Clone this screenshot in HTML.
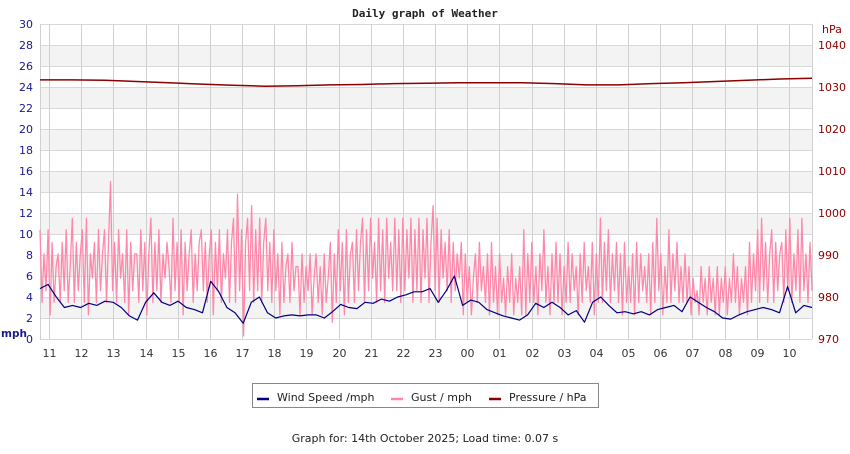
<!DOCTYPE html>
<html><head><meta charset="utf-8"><style>
body{margin:0;background:#fff;width:850px;height:450px;overflow:hidden;font-family:"DejaVu Sans","Liberation Sans",sans-serif}
</style></head><body>
<svg width="850" height="450" xmlns="http://www.w3.org/2000/svg" id="chart" font-family="DejaVu Sans, Liberation Sans, sans-serif">
<text x="425" y="17" text-anchor="middle" font-family="DejaVu Sans Mono, Liberation Mono, monospace" font-weight="bold" font-size="11" fill="#222">Daily graph of Weather</text>
<g id="grid"></g>
<g id="ylabels"></g>
<g id="rlabels"></g>
<g id="xlabels"></g>
<g id="series"></g>
<text x="1" y="337" font-weight="bold" font-size="10.5" fill="#1a1a8c">mph</text>
<text x="822" y="33" font-size="11" fill="#8b0000">hPa</text>
<g>
<rect x="252.5" y="383.5" width="346" height="24" fill="#fff" stroke="#888"/>
<g><line x1="257" y1="399" x2="269" y2="399" stroke="#000080" stroke-width="2.5"/><text x="277" y="401" font-size="11" fill="#222">Wind Speed /mph</text></g>
<g><line x1="391" y1="399" x2="403" y2="399" stroke="#ff88aa" stroke-width="2.5"/><text x="411" y="401" font-size="11" fill="#222">Gust / mph</text></g>
<g><line x1="489" y1="399" x2="501" y2="399" stroke="#8b0000" stroke-width="2.5"/><text x="509" y="401" font-size="11" fill="#222">Pressure / hPa</text></g>
</g>
<text x="425" y="442" text-anchor="middle" font-size="11" fill="#222">Graph for: 14th October 2025; Load time: 0.07 s</text>
</svg>
<script>
const hourLabels=["11","12","13","14","15","16","17","18","19","20","21","22","23","00","01","02","03","04","05","06","07","08","09","10"];
const mphTicks=[0,2,4,6,8,10,12,14,16,18,20,22,24,26,28,30];
const hpaTicks=[970,980,990,1000,1010,1020,1030,1040];
const windSpeed=[4.8,5.2,4.0,3.0, 3.2,3.0,3.4,3.2, 3.6,3.5,3.0,2.2, 1.8,3.5,4.4,3.5, 3.2,3.6,3.0,2.8, 2.5,5.5,4.5,3.0, 2.5,1.5,3.5,4.0, 2.5,2.0,2.2,2.3, 2.2,2.3,2.3,2.0, 2.6,3.3,3.0,2.9, 3.5,3.4,3.8,3.6, 4.0,4.2,4.5,4.5, 4.8,3.5,4.6,6.0, 3.2,3.7,3.5,2.8, 2.5,2.2,2.0,1.8, 2.3,3.4,3.0,3.5, 3.0,2.3,2.7,1.6, 3.5,4.0,3.2,2.5, 2.6,2.4,2.6,2.3, 2.8,3.0,3.2,2.6, 4.0,3.5,3.0,2.6, 2.0,1.9,2.3,2.6, 2.8,3.0,2.8,2.5, 5.0,2.5,3.2,3.0];
const gust=[
10.4,3.5,8.1,4.6,10.4,2.3,9.2,3.5,6.9,8.1,3.5,9.2,4.6,10.4,3.5,6.9,
11.5,3.5,9.2,4.6,8.1,10.4,3.5,11.5,2.3,8.1,5.8,9.2,3.5,10.4,4.6,8.1,
10.4,3.5,9.2,15.0,4.6,9.2,3.5,10.4,5.8,8.1,3.5,10.4,2.3,9.2,4.6,8.1,
8.1,3.5,10.4,4.6,9.2,2.3,8.1,11.5,3.5,9.2,4.6,10.4,3.5,8.1,5.8,9.2,
6.9,3.5,11.5,4.6,9.2,3.5,10.4,2.3,9.2,4.6,8.1,10.4,3.5,8.1,4.6,9.2,
10.4,4.6,9.2,3.5,8.1,10.4,2.3,9.2,4.6,10.4,3.5,8.1,5.8,10.4,3.5,9.2,
11.5,3.5,13.8,4.6,10.4,0.3,9.2,11.5,4.6,12.7,3.5,10.4,4.6,11.5,3.5,9.2,
11.5,4.6,9.2,3.5,10.4,4.6,8.1,2.3,9.2,3.5,6.9,8.1,3.5,9.2,4.6,6.9,
6.9,2.3,8.1,3.5,6.9,4.6,8.1,2.3,5.8,8.1,3.5,6.9,2.3,8.1,3.5,5.8,
9.2,1.6,8.1,3.5,10.4,4.6,9.2,2.3,10.4,3.5,8.1,9.2,3.5,10.4,4.6,9.2,
11.5,3.5,10.4,4.6,11.5,5.8,9.2,3.5,11.5,4.6,10.4,3.5,11.5,5.8,9.2,4.6,
11.5,4.6,10.4,3.5,11.5,4.6,10.4,5.8,11.5,3.5,10.4,4.6,11.5,3.5,10.4,5.8,
11.5,3.5,9.2,12.7,4.6,11.5,3.5,10.4,5.8,9.2,4.6,10.4,3.5,9.2,4.6,8.1,
5.8,9.2,2.3,8.1,3.5,6.9,2.3,5.8,8.1,3.5,9.2,4.6,6.9,3.5,8.1,2.3,
9.2,3.5,6.9,2.3,8.1,3.5,5.8,2.3,6.9,3.5,8.1,2.3,5.8,3.5,6.9,2.3,
10.4,2.3,8.1,3.5,9.2,3.5,6.9,2.3,8.1,4.6,10.4,3.5,6.9,2.3,8.1,3.5,
9.2,3.5,8.1,2.3,6.9,3.5,9.2,3.5,8.1,4.6,6.9,2.3,8.1,3.5,9.2,4.6,
6.9,3.5,9.2,2.3,8.1,3.5,11.5,3.5,9.2,4.6,10.4,3.5,8.1,4.6,9.2,3.5,
8.1,2.3,9.2,3.5,6.9,3.5,8.1,2.3,9.2,3.5,8.1,4.6,6.9,3.5,8.1,2.3,
9.2,3.5,11.5,4.6,8.1,2.3,6.9,3.5,10.4,3.5,8.1,4.6,9.2,3.5,6.9,3.5,
8.1,3.5,6.9,2.3,5.8,3.5,4.6,2.3,6.9,3.5,5.8,2.3,6.9,3.5,5.8,2.3,
6.9,2.3,5.8,3.5,6.9,2.3,5.8,3.5,8.1,3.5,6.9,2.3,5.8,3.5,6.9,2.3,
9.2,3.5,8.1,4.6,10.4,3.5,11.5,4.6,9.2,3.5,8.1,10.4,3.5,9.2,4.6,8.1,
9.2,3.5,10.4,4.6,11.5,3.5,8.1,4.6,10.4,3.5,11.5,4.6,8.1,3.5,9.2,4.6];
const pressure=[1031.7,1031.7,1031.6,1031.3,1031.0,1030.7,1030.4,1030.2,1030.3,1030.5,1030.6,1030.8,1030.9,1031.0,1031.0,1031.0,1030.8,1030.5,1030.5,1030.8,1031.0,1031.3,1031.6,1031.9,1032.1];

const NS="http://www.w3.org/2000/svg";
const X0=40,X1=812,Y0=339,Y1=24,HOURS=24,FIRST=0.28;
const xT=t=>X0+(X1-X0)*t/HOURS;
const yM=v=>Y0-(Y0-Y1)*v/30;
const yP=p=>Y0-(p-970)*4.2;
function el(tag,attrs,parent){const e=document.createElementNS(NS,tag);for(const k in attrs)e.setAttribute(k,attrs[k]);parent.appendChild(e);return e;}
const grid=document.getElementById('grid');
for(let v=2;v<30;v+=4){
  const r=el('rect',{x:X0,y:yM(v+2),width:X1-X0,height:yM(v)-yM(v+2),fill:'#f3f3f3'},grid);
  
  
}
mphTicks.forEach(v=>{
  const l=el('line',{x1:X0,x2:X1,y1:yM(v)+0.5,y2:yM(v)+0.5,stroke:'#d8d8d8'},grid);
  
  
  const t=el('text',{x:33,y:yM(v)+4,'text-anchor':'end','font-size':11,fill:'#1a1a8c'},document.getElementById('ylabels'));
  t.textContent=v;
  
  
});
hpaTicks.forEach(p=>{
  const t=el('text',{x:818,y:yP(p)+4,'font-size':11,fill:'#8b0000'},document.getElementById('rlabels'));
  t.textContent=p;
  
  
});
[X0,X1].forEach(x=>{const l=el('line',{x1:x+0.5,x2:x+0.5,y1:Y1,y2:Y0,stroke:'#d0d0d0'},grid);
  
  });
hourLabels.forEach((h,i)=>{
  const x=Math.round(xT(FIRST+i))+0.5;
  const l=el('line',{x1:x,x2:x,y1:Y1,y2:Y0,stroke:'#d0d0d0'},grid);
  
  
  const t=el('text',{x:x,y:357,'text-anchor':'middle','font-size':11,fill:'#333'},document.getElementById('xlabels'));
  t.textContent=h;
  
  
});
const ser=document.getElementById('series');
function poly(arr,yf,color,name,w){
  const n=arr.length;
  const pts=arr.map((v,i)=>xT(i*HOURS/(n-1)).toFixed(1)+','+yf(v).toFixed(1)).join(' ');
  const p=el('polyline',{points:pts,fill:'none',stroke:color,'stroke-width':w,'stroke-linejoin':'round'},ser);
  
  
}
poly(gust,yM,'#ff88aa','gust-line',1.3);
poly(windSpeed,yM,'#000080','wind-speed-line',1.2);
poly(pressure,yP,'#8b0000','pressure-line',1.5);
</script>
</body></html>
